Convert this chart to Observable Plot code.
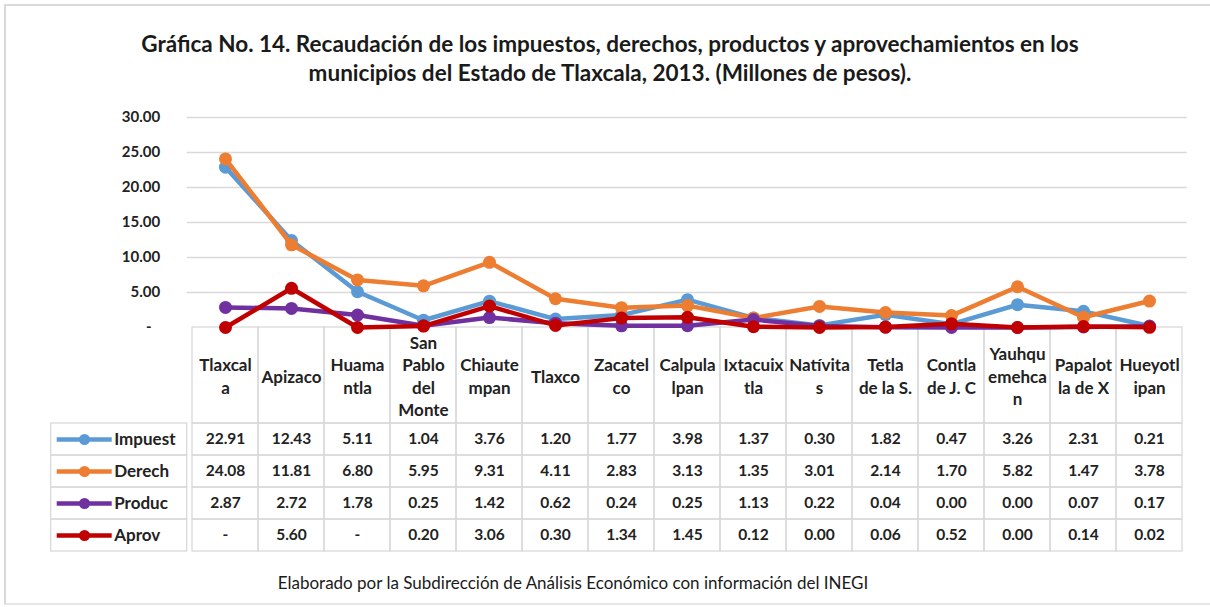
<!DOCTYPE html>
<html><head><meta charset="utf-8">
<script src="https://cdn.jsdelivr.net/npm/d3@7"></script>
<script src="https://cdn.jsdelivr.net/npm/@observablehq/plot@0.6"></script>
<style>
body{margin:0;background:#fff;width:1210px;height:607px;overflow:hidden;position:relative;font-family:Lato,"Open Sans",sans-serif;}
#frame{position:absolute;left:4px;top:4px;width:1220px;height:597px;border-left:2px solid #d9d9d9;border-top:2px solid #d9d9d9;border-bottom:2px solid #e6e6e6;}
#title{position:absolute;left:0;top:30px;width:1220px;text-align:center;font-weight:bold;font-size:22.5px;line-height:28.5px;color:#1a1a1a;}
#chart{position:absolute;left:0;top:90px;}
#table{position:absolute;left:0;top:423px;}
#caption{position:absolute;left:0;top:572px;width:1146px;text-align:center;font-size:17px;line-height:22px;color:#1a1a1a;}
</style></head><body>
<div id="frame"></div>
<div id="title">Gráfica No. 14. Recaudación de los impuestos, derechos, productos y aprovechamientos en los<br>municipios del Estado de Tlaxcala, 2013. (Millones de pesos).</div>
<div id="chart"></div><div id="table"></div>
<div id="caption">Elaborado por la Subdirección de Análisis Económico con información del INEGI</div>
<script>
const municipios = ["Tlaxcal\na","Apizaco","Huama\nntla","San\nPablo\ndel\nMonte","Chiaute\nmpan","Tlaxco","Zacatel\nco","Calpula\nlpan","Ixtacuix\ntla","Natívita\ns","Tetla\nde la S.","Contla\nde J. C","Yauhqu\nemehca\nn","Papalot\nla de X","Hueyotl\nipan"];
const series = ["Impuest","Derech","Produc","Aprov"];
const colors = ["#5B9BD5","#ED7D31","#7030A0","#C00000"];
const impuestos = [22.91,12.43,5.11,1.04,3.76,1.20,1.77,3.98,1.37,0.30,1.82,0.47,3.26,2.31,0.21];
const derechos = [24.08,11.81,6.80,5.95,9.31,4.11,2.83,3.13,1.35,3.01,2.14,1.70,5.82,1.47,3.78];
const productos = [2.87,2.72,1.78,0.25,1.42,0.62,0.24,0.25,1.13,0.22,0.04,0.00,0.00,0.07,0.17];
const aprovechamientos = [null,5.60,null,0.20,3.06,0.30,1.34,1.45,0.12,0.00,0.06,0.52,0.00,0.14,0.02];
const yTicks = [0,5,10,15,20,25,30];

const valores = [impuestos, derechos, productos, aprovechamientos];
const rows = series.flatMap((s, i) => valores[i].map((v, j) => ({serie: s, municipio: municipios[j], valor: v})));

const W = 1210, ML = 186.7, MR = 23.3;
const font = "Lato, 'Open Sans', sans-serif";
const grid = "#d9d9d9";

const chart = Plot.plot({
  width: W, height: 333, marginLeft: ML, marginRight: MR, marginTop: 27, marginBottom: 96,
  style: {fontFamily: font, color: "#222", background: "transparent", overflow: "visible"},
  x: {type: "band", domain: municipios, padding: 0, axis: null},
  y: {domain: [0, 30], axis: null},
  color: {domain: series, range: colors},
  marks: [
    Plot.ruleY(yTicks.filter(d => d > 0), {stroke: grid, strokeWidth: 1.3}),
    Plot.cell(municipios, {x: d => d, fill: "none", stroke: grid, strokeWidth: 1.3, insetTop: 210, insetBottom: -96}),
    Plot.axisY(yTicks, {tickSize: 0, tickPadding: 27, tickFormat: d => d === 0 ? "-\u2007" : d.toFixed(2), fontSize: 15, fontWeight: "bold"}),
    ...series.flatMap(s => {
      const data = rows.filter(r => r.serie === s);
      return [
        Plot.line(data, {x: "municipio", y: r => r.valor ?? 0, stroke: "serie", strokeWidth: 4.5, strokeLinejoin: "round"}),
        Plot.dot(data, {x: "municipio", y: r => r.valor ?? 0, fill: "serie", r: 6.5})
      ];
    }),
    Plot.text(municipios, {x: d => d, text: d => d, frameAnchor: "bottom", dy: 48, lineAnchor: "middle", lineHeight: 1.32, fontSize: 17, fontWeight: "bold", fill: "#222"})
  ]
});
document.getElementById("chart").append(chart);

const table = Plot.plot({
  width: W, height: 128, marginLeft: ML, marginRight: MR, marginTop: 0, marginBottom: 0,
  style: {fontFamily: font, color: "#222", background: "transparent", overflow: "visible"},
  x: {type: "band", domain: municipios, padding: 0, axis: null},
  y: {type: "band", domain: series, padding: 0, axis: null},
  color: {domain: series, range: colors},
  marks: [
    Plot.cell(rows, {x: "municipio", y: "serie", fill: "none", stroke: grid, strokeWidth: 1.3}),
    Plot.cell(series, {y: d => d, fill: "none", stroke: grid, strokeWidth: 1.3, insetLeft: -136, insetRight: 1000}),
    Plot.ruleY(series, {y: d => d, stroke: d => d, strokeWidth: 4.5, insetLeft: -130, insetRight: 1075}),
    Plot.dot(series, {y: d => d, fill: d => d, frameAnchor: "left", dx: -102.7, r: 5.5}),
    Plot.text(series, {y: d => d, text: d => d, frameAnchor: "left", dx: -73, textAnchor: "start", fontSize: 17, fontWeight: "bold", fill: "#222"}),
    Plot.text(rows, {x: "municipio", y: "serie", text: r => r.valor == null ? "-" : r.valor.toFixed(2), fontSize: 15.5, fontWeight: "bold", fill: "#222"})
  ]
});
document.getElementById("table").append(table);
</script>
</body></html>
